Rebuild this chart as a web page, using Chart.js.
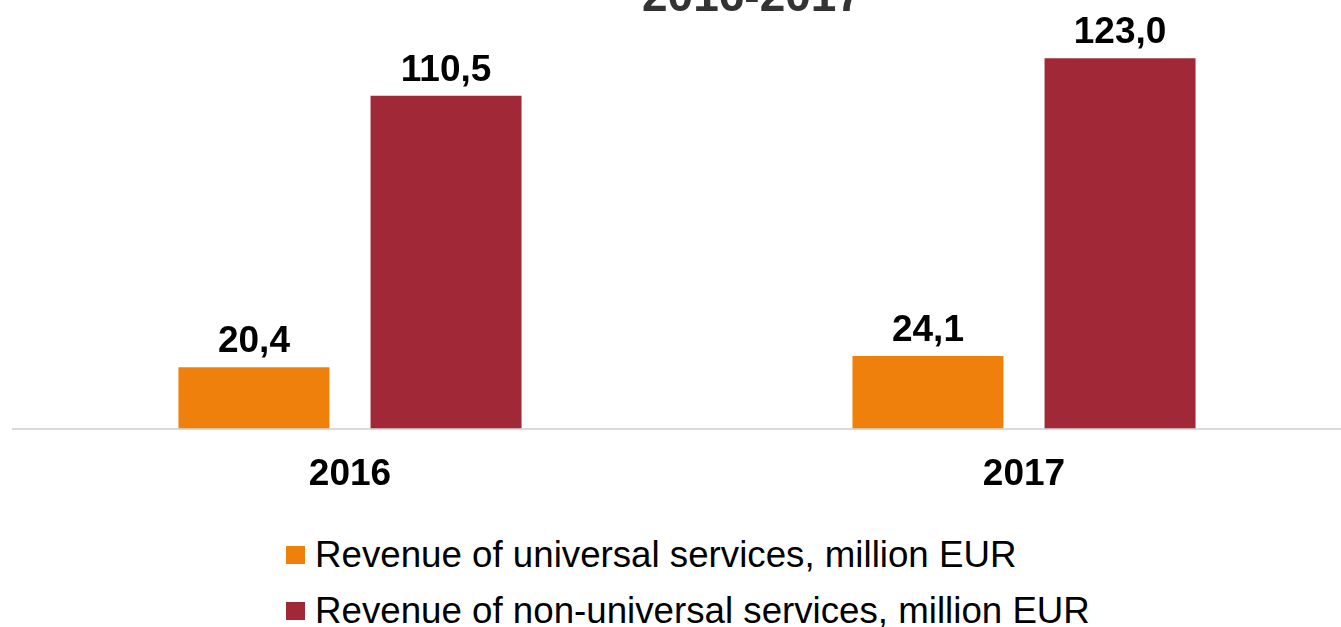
<!DOCTYPE html>
<html>
<head>
<meta charset="utf-8">
<script src="https://cdn.jsdelivr.net/npm/chart.js@4/dist/chart.umd.min.js"></script>
<style>
    html, body { margin: 0; padding: 0; background: #fff; overflow: hidden; width: 1341px; height: 627px; }
    #wrap { position: relative; width: 1341px; height: 627px; overflow: hidden; }
    #revChart { position: absolute; left: 0; top: 0; }
    #legend { position: absolute; left: 286px; top: 527px; font-family: "Liberation Sans", Arial, sans-serif; font-size: 36.7px; color: #000; }
    .row { display: flex; align-items: center; height: 56px; }
    .box { width: 19px; height: 18px; margin-right: 10px; }
</style>
</head>
<body>
<div id="wrap">
    <canvas id="revChart" width="1361" height="527"></canvas>
    <div id="legend"></div>
</div>
<script>
// 데이터
const years = ['2016', '2017'];
const universalRevenue = [20.4, 24.1];
const nonUniversalRevenue = [110.5, 123.0];
const seriesNames = [
    'Revenue of universal services, million EUR',
    'Revenue of non-universal services, million EUR'
];
const seriesColors = ['#F0800C', '#A12837'];
const titleText = '2016-2017';

// 막대 위 값 표시
const valueLabels = {
    id: 'valueLabels',
    afterDatasetsDraw(chart) {
        const ctx = chart.ctx;
        ctx.save();
        ctx.font = 'bold 37px "Liberation Sans", Arial, sans-serif';
        ctx.fillStyle = '#000';
        ctx.textAlign = 'center';
        ctx.textBaseline = 'alphabetic';
        chart.data.datasets.forEach((ds, i) => {
            chart.getDatasetMeta(i).data.forEach((bar, j) => {
                const txt = ds.data[j].toFixed(1).replace('.', ',');
                ctx.fillText(txt, bar.x, bar.y - 15);
            });
        });
        ctx.restore();
    }
};

// 잘린 제목
const cutTitle = {
    id: 'cutTitle',
    afterDraw(chart) {
        const ctx = chart.ctx;
        ctx.save();
        ctx.font = 'bold 46px "Liberation Sans", Arial, sans-serif';
        ctx.fillStyle = '#333';
        ctx.textAlign = 'center';
        ctx.textBaseline = 'alphabetic';
        ctx.fillText(titleText, 752, 11);
        ctx.restore();
    }
};

new Chart(document.getElementById('revChart'), {
    type: 'bar',
    data: {
        labels: years,
        datasets: [
            { label: seriesNames[0], data: universalRevenue, backgroundColor: seriesColors[0] },
            { label: seriesNames[1], data: nonUniversalRevenue, backgroundColor: seriesColors[1] }
        ]
    },
    options: {
        responsive: false,
        animation: false,
        layout: { padding: { left: 13, right: 0, top: 7, bottom: 6 } },
        datasets: { bar: { categoryPercentage: 0.57, barPercentage: 0.786 } },
        plugins: {
            legend: { display: false },
            tooltip: { enabled: false }
        },
        scales: {
            x: {
                grid: { display: false, drawTicks: false },
                border: { display: true, color: '#d9d9d9', width: 2 },
                ticks: {
                    color: '#000',
                    padding: 24,
                    font: { family: '"Liberation Sans", Arial, sans-serif', size: 37, weight: 'bold' }
                }
            },
            y: {
                display: false,
                min: 0,
                max: 140
            }
        }
    },
    plugins: [valueLabels, cutTitle]
});

// 범례
const legendEl = document.getElementById('legend');
seriesNames.forEach((name, i) => {
    const row = document.createElement('div');
    row.className = 'row';
    const box = document.createElement('span');
    box.className = 'box';
    box.style.background = seriesColors[i];
    const txt = document.createElement('span');
    txt.textContent = name;
    row.appendChild(box);
    row.appendChild(txt);
    legendEl.appendChild(row);
});
</script>
</body>
</html>
